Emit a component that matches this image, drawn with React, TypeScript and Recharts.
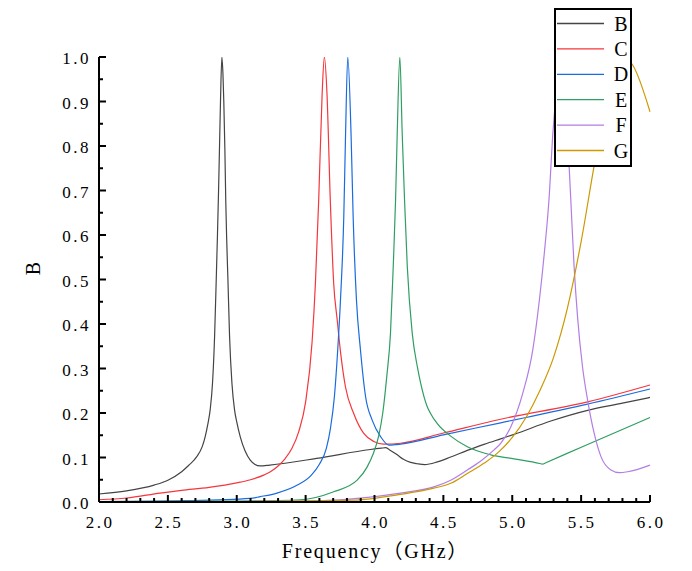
import React from "react";
import { LineChart, Line, XAxis, YAxis, Legend } from "recharts";

// frequency (GHz) / normalised value
const bFreq = [2.0, 2.2, 2.4, 2.5, 2.6, 2.65, 2.71, 2.75, 2.771, 2.79, 2.807, 2.824, 2.839, 2.851, 2.86, 2.868, 2.875, 2.882, 2.892, 2.9, 2.906, 2.914, 2.92, 2.927, 2.936, 2.948, 2.965, 2.984, 3.0, 3.025, 3.06, 3.098, 3.13, 3.17, 3.24, 3.58, 3.97, 4.05, 4.08, 4.11, 4.165, 4.21, 4.262, 4.31, 4.365, 4.456, 4.553, 4.674, 4.8, 4.916, 5.013, 5.28, 5.547, 5.8, 6.0];
const bVal = [0.018, 0.025, 0.038, 0.049, 0.068, 0.082, 0.102, 0.125, 0.147, 0.175, 0.207, 0.267, 0.371, 0.499, 0.6, 0.7, 0.8, 0.9, 1.0, 0.96, 0.9, 0.79, 0.68, 0.59, 0.499, 0.371, 0.267, 0.207, 0.18, 0.147, 0.115, 0.094, 0.085, 0.081, 0.083, 0.098, 0.118, 0.121, 0.122, 0.117, 0.106, 0.096, 0.089, 0.086, 0.084, 0.09, 0.101, 0.116, 0.13, 0.142, 0.152, 0.182, 0.206, 0.222, 0.235];

const cFreq = [2.0, 2.2, 2.444, 2.6, 2.8, 3.0, 3.1, 3.2, 3.25, 3.3, 3.35, 3.4, 3.45, 3.5, 3.547, 3.571, 3.595, 3.62, 3.636, 3.655, 3.679, 3.704, 3.729, 3.753, 3.789, 3.849, 3.922, 3.995, 4.068, 4.189, 4.5, 4.916, 5.547, 6.0];
const cVal = [0.005, 0.009, 0.02, 0.026, 0.033, 0.043, 0.05, 0.061, 0.069, 0.081, 0.097, 0.12, 0.158, 0.225, 0.36, 0.491, 0.679, 0.918, 1.0, 0.918, 0.679, 0.49, 0.41, 0.338, 0.259, 0.199, 0.154, 0.136, 0.13, 0.132, 0.155, 0.186, 0.225, 0.263];

const dFreq = [2.0, 2.635, 3.098, 3.171, 3.292, 3.44, 3.54, 3.6, 3.65, 3.68, 3.709, 3.733, 3.753, 3.777, 3.789, 3.806, 3.831, 3.845, 3.869, 3.898, 3.935, 3.983, 4.044, 4.104, 4.189, 4.5, 4.916, 5.547, 6.0];
const dVal = [0.001, 0.003, 0.008, 0.012, 0.02, 0.038, 0.06, 0.085, 0.12, 0.165, 0.237, 0.342, 0.454, 0.641, 0.813, 1.0, 0.813, 0.641, 0.454, 0.342, 0.237, 0.184, 0.147, 0.128, 0.13, 0.151, 0.178, 0.22, 0.254];

const eFreq = [2.0, 3.0, 3.462, 3.704, 3.874, 3.947, 3.99, 4.03, 4.06, 4.09, 4.116, 4.136, 4.153, 4.165, 4.184, 4.201, 4.218, 4.238, 4.274, 4.311, 4.335, 4.383, 4.407, 4.456, 4.553, 4.674, 4.844, 5.013, 5.2, 5.22, 5.24, 5.522, 6.0];
const eVal = [0.001, 0.002, 0.005, 0.023, 0.049, 0.079, 0.108, 0.148, 0.2, 0.285, 0.379, 0.529, 0.679, 0.829, 1.0, 0.829, 0.679, 0.529, 0.379, 0.304, 0.267, 0.214, 0.199, 0.176, 0.148, 0.124, 0.106, 0.097, 0.0865, 0.085, 0.0877, 0.126, 0.19];

const fFreq = [2.0, 3.0, 3.516, 3.836, 4.189, 4.431, 4.553, 4.674, 4.767, 4.868, 4.916, 4.99, 5.076, 5.149, 5.197, 5.233, 5.269, 5.293, 5.33, 5.352, 5.38, 5.413, 5.425, 5.449, 5.474, 5.51, 5.547, 5.595, 5.644, 5.716, 5.778, 5.838, 6.0];
const fVal = [0.0, 0.001, 0.002, 0.007, 0.02, 0.034, 0.049, 0.072, 0.091, 0.117, 0.132, 0.169, 0.244, 0.342, 0.454, 0.56, 0.69, 0.821, 0.95, 1.0, 0.9, 0.754, 0.679, 0.529, 0.416, 0.304, 0.229, 0.154, 0.102, 0.072, 0.066, 0.068, 0.083];

const gFreq = [2.0, 3.0, 3.836, 4.189, 4.431, 4.553, 4.674, 4.8, 4.9, 5.0, 5.1, 5.2, 5.3, 5.4, 5.5, 5.6, 5.7, 5.8, 5.874, 6.0];
const gVal = [0.0, 0.001, 0.004, 0.017, 0.031, 0.042, 0.064, 0.088, 0.112, 0.145, 0.19, 0.25, 0.325, 0.435, 0.585, 0.765, 0.92, 1.0, 0.982, 0.877];

const seriesNames = ["B", "C", "D", "E", "F", "G"];

const xMajorTicks = [2.0, 2.5, 3.0, 3.5, 4.0, 4.5, 5.0, 5.5, 6.0];
const xMinorTicks = [2.1, 2.2, 2.3, 2.4, 2.6, 2.7, 2.8, 2.9, 3.1, 3.2, 3.3, 3.4, 3.6, 3.7, 3.8, 3.9, 4.1, 4.2, 4.3, 4.4, 4.6, 4.7, 4.8, 4.9, 5.1, 5.2, 5.3, 5.4, 5.6, 5.7, 5.8, 5.9];
const yMajorTicks = [0.0, 0.1, 0.2, 0.3, 0.4, 0.5, 0.6, 0.7, 0.8, 0.9, 1.0];
const yMinorTicks = [0.05, 0.15, 0.25, 0.35, 0.45, 0.55, 0.65, 0.75, 0.85, 0.95];

const xTitle = "Frequency（GHz）";
const yTitle = "B";

const colors = ["#444444", "#f5363c", "#1a6be0", "#2f9e62", "#b27ee4", "#cc9900"];
const serif = "'Liberation Serif', 'Noto Sans CJK SC', serif";

const toPoints = (fs: number[], vs: number[]) => fs.map((f, i) => ({ f, v: vs[i] }));

const series = [
  toPoints(bFreq, bVal),
  toPoints(cFreq, cVal),
  toPoints(dFreq, dVal),
  toPoints(eFreq, eVal),
  toPoints(fFreq, fVal),
  toPoints(gFreq, gVal),
];

const XTick = (props: any) => {
  const { x, y, payload } = props;
  const major = xMajorTicks.includes(payload.value);
  return (
    <g>
      <line x1={x} x2={x} y1={y} y2={y - (major ? 7 : 4)} stroke="#000" strokeWidth={2} />
      {major && (
        <text x={x + 1} y={y + 26} textAnchor="middle" fontFamily={serif} fontSize={17} letterSpacing={2.5} fill="#000">
          {payload.value.toFixed(1)}
        </text>
      )}
    </g>
  );
};

const YTick = (props: any) => {
  const { x, y, payload } = props;
  const major = yMajorTicks.includes(payload.value);
  return (
    <g>
      <line x1={x} x2={x + (major ? 7 : 4)} y1={y} y2={y} stroke="#000" strokeWidth={2} />
      {major && (
        <text x={x - 8} y={y + 7} textAnchor="end" fontFamily={serif} fontSize={17} letterSpacing={2.5} fill="#000">
          {payload.value.toFixed(1)}
        </text>
      )}
    </g>
  );
};

const XTitle = (props: any) => {
  const vb = props.viewBox;
  return (
    <text x={vb.x + vb.width / 2 + 1} y={vb.y + 56} textAnchor="middle" fontFamily={serif} fontSize={20} letterSpacing={1.8} fill="#000">
      {xTitle}
    </text>
  );
};

const YTitle = (props: any) => {
  const vb = props.viewBox;
  const cx = vb.x + 33;
  const cy = vb.y + vb.height / 2 - 11;
  return (
    <text x={cx} y={cy} transform={`rotate(-90 ${cx} ${cy})`} textAnchor="middle" dominantBaseline="central" fontFamily={serif} fontSize={20} fill="#000">
      {yTitle}
    </text>
  );
};

const renderLegend = (props: any) => {
  const items = props.payload || [];
  return (
    <svg width={78} height={159} style={{ display: "block" }}>
      <rect x={1} y={1} width={76} height={157} fill="#fff" stroke="#000" strokeWidth={2} />
      {items.map((it: any, i: number) => {
        const cy = 15.5 + i * 25.4;
        return (
          <g key={it.value}>
            <line x1={3} x2={50} y1={cy} y2={cy} stroke={it.color} strokeWidth={1.3} />
            <text x={67} y={cy + 7} textAnchor="middle" fontFamily={serif} fontSize={20} fill="#000">
              {it.value}
            </text>
          </g>
        );
      })}
    </svg>
  );
};

export default function App() {
  return (
    <div style={{ position: "absolute", left: 0, top: 0, background: "#fff" }}>
      <LineChart width={692} height={571} margin={{ top: 57, right: 42, bottom: 0, left: 0 }}>
        <XAxis
          type="number"
          dataKey="f"
          domain={[2, 6]}
          ticks={[...xMajorTicks, ...xMinorTicks]}
          interval={0}
          height={69}
          axisLine={{ stroke: "#000", strokeWidth: 2 }}
          tickLine={false}
          tickSize={0}
          tickMargin={0}
          tick={<XTick />}
          allowDuplicatedCategory={false}
          label={{ content: XTitle }}
        />
        <YAxis
          type="number"
          domain={[0, 1]}
          allowDataOverflow
          ticks={[...yMajorTicks, ...yMinorTicks]}
          interval={0}
          width={99}
          axisLine={{ stroke: "#000", strokeWidth: 2 }}
          tickLine={false}
          tickSize={0}
          tickMargin={0}
          tick={<YTick />}
          label={{ content: YTitle }}
        />
        {series.map((data, i) => (
          <Line
            key={seriesNames[i]}
            name={seriesNames[i]}
            data={data}
            dataKey="v"
            type="monotone"
            stroke={colors[i]}
            strokeWidth={1.2}
            dot={false}
            activeDot={false}
            isAnimationActive={false}
          />
        ))}
        <Legend
          layout="vertical"
          align="center"
          verticalAlign="middle"
          wrapperStyle={{ left: 554, top: 8, width: 78, height: 159 }}
          content={renderLegend}
        />
      </LineChart>
    </div>
  );
}
